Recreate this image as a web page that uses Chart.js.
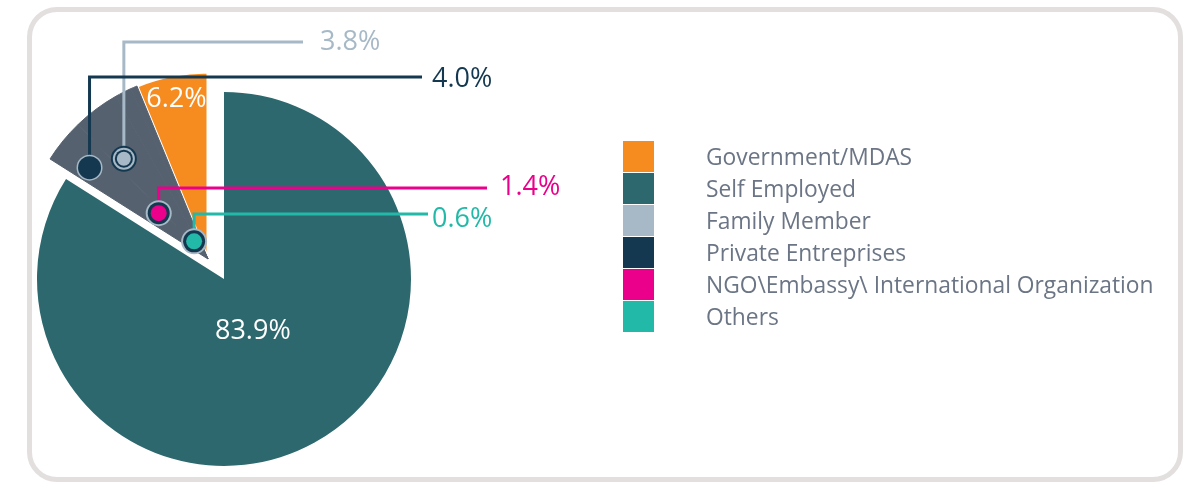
<!DOCTYPE html>
<html>
<head>
<meta charset="utf-8">
<script src="https://cdn.jsdelivr.net/npm/chart.js@4.4.1/dist/chart.umd.min.js"></script>
<style>
  html, body { margin: 0; padding: 0; background: #ffffff; }
  body { width: 1189px; height: 484px; position: relative; overflow: hidden; font-family: "Open Sans", sans-serif; }
  #frame { position: absolute; left: 27px; top: 7px; width: 1146px; height: 465px; border: 5px solid #e3dfdf; border-radius: 30px; }
  #chartWrap { position: absolute; left: 0; top: 0; width: 1189px; height: 484px; }
  #legend { position: absolute; left: 623px; top: 141px; }
  .row { height: 32px; display: flex; align-items: center; }
  .box { width: 31px; height: 31px; margin-bottom: 1px; }
  .txt { margin-left: 52px; font-size: 22.8px; color: #6b7585; line-height: 32px; white-space: nowrap; }
</style>
</head>
<body>
<div id="frame"></div>
<div id="chartWrap"><canvas id="pieChart"></canvas></div>
<div id="legend"></div>

<script>
const categories = [
  "Government/MDAS",
  "Self Employed",
  "Family Member",
  "Private Entreprises",
  "NGO\\Embassy\\ International Organization",
  "Others"
];
const shares = [6.2, 83.9, 3.8, 4.0, 1.4, 0.6];

const legendColors = ["#f68b1f", "#2c686e", "#a7b9c6", "#143850", "#ea008b", "#23b9a8"];
const sliceColors = ["#f68b1f", "#2c686e", "#56616f", "#56616f", "#56616f", "#56616f"];

// slices pulled out of the pie, and how far
const explodedIdx = [0, 2, 3, 4, 5];
const explodeShift = { x: -16, y: -20 };

// labels written inside a slice (index -> fraction of radius)
const innerLabels = [
  { idx: 0, rf: 0.87 },
  { idx: 1, rf: 0.32 }
];

// callouts for the small slices: spot inside the grey wedge + where the label sits
const callouts = [
  { idx: 2, t: 0.50, rf: 0.70, lineY: 42, endX: 303, gap: 17, dy: 0,
    rings: [[13, "#143850"], [11, "#a7b9c6"], [9, "#143850"], [7, "#a7b9c6"]] },
  { idx: 3, t: 0.15, rf: 0.80, lineY: 77, endX: 422, gap: 10, dy: 2,
    rings: [[13, "#a7b9c6"], [11.5, "#143850"]] },
  { idx: 4, t: 0.30, rf: 0.36, lineY: 188, endX: 487, gap: 13, dy: -1,
    rings: [[13, "#a7b9c6"], [11, "#143850"], [8, "#ea008b"]] },
  { idx: 5, t: 0.55, rf: 0.12, lineY: 214, endX: 428, gap: 4, dy: 5,
    rings: [[13, "#a7b9c6"], [11, "#143850"], [8, "#23b9a8"]] }
];

const labelFont = "27px 'Open Sans', sans-serif";

function formatShare(value) {
  return value.toFixed(1) + "%";
}

const explodePlugin = {
  id: "explode",
  beforeDatasetsDraw(chart) {
    const arcs = chart.getDatasetMeta(0).data;
    explodedIdx.forEach(i => {
      const arc = arcs[i];
      if (!arc || arc._shifted) return;
      arc._shifted = true;
      arc.draw = function () {
        const ctx = arguments[0];
        ctx.save();
        ctx.translate(explodeShift.x, explodeShift.y);
        Chart.ArcElement.prototype.draw.apply(this, arguments);
        ctx.restore();
      };
    });
  }
};

const labelPlugin = {
  id: "sliceLabels",
  afterDatasetsDraw(chart) {
    const ctx = chart.ctx;
    const arcs = chart.getDatasetMeta(0).data;

    ctx.save();
    ctx.font = labelFont;
    ctx.textBaseline = "middle";

    // labels inside the big slices
    innerLabels.forEach(item => {
      const arc = arcs[item.idx];
      const shifted = explodedIdx.includes(item.idx);
      const cx = arc.x + (shifted ? explodeShift.x : 0);
      const cy = arc.y + (shifted ? explodeShift.y : 0);
      const mid = (arc.startAngle + arc.endAngle) / 2;
      const r = arc.outerRadius * item.rf;
      ctx.fillStyle = "#ffffff";
      ctx.textAlign = "center";
      ctx.fillText(formatShare(shares[item.idx]), cx + Math.cos(mid) * r, cy + Math.sin(mid) * r);
    });

    // callouts for the small slices
    const first = arcs[callouts[0].idx];
    const last = arcs[callouts[callouts.length - 1].idx];
    const cx = first.x + explodeShift.x;
    const cy = first.y + explodeShift.y;
    const a0 = first.startAngle;
    const a1 = last.endAngle;

    const spots = callouts.map(c => {
      const a = a0 + (a1 - a0) * c.t;
      const r = first.outerRadius * c.rf;
      return { x: cx + Math.cos(a) * r, y: cy + Math.sin(a) * r };
    });

    callouts.forEach((c, k) => {
      const p = spots[k];
      const color = legendColors[c.idx];
      ctx.strokeStyle = color;
      ctx.lineWidth = 3;
      ctx.lineCap = "butt";
      ctx.lineJoin = "miter";
      ctx.beginPath();
      ctx.moveTo(p.x, p.y);
      ctx.lineTo(p.x, c.lineY);
      ctx.lineTo(c.endX, c.lineY);
      ctx.stroke();

      ctx.fillStyle = color;
      ctx.textAlign = "left";
      ctx.fillText(formatShare(shares[c.idx]), c.endX + c.gap, c.lineY + c.dy);
    });

    callouts.forEach((c, k) => {
      const p = spots[k];
      c.rings.forEach(([rad, fill]) => {
        ctx.beginPath();
        ctx.arc(p.x, p.y, rad, 0, Math.PI * 2);
        ctx.fillStyle = fill;
        ctx.fill();
      });
    });

    ctx.restore();
  }
};

function renderLegend() {
  const legend = document.getElementById("legend");
  categories.forEach((name, i) => {
    const row = document.createElement("div");
    row.className = "row";
    row.innerHTML = `<div class="box" style="background:${legendColors[i]}"></div><div class="txt"></div>`;
    row.querySelector(".txt").textContent = name;
    legend.appendChild(row);
  });
}

const ctx = document.getElementById("pieChart").getContext("2d");

new Chart(ctx, {
  type: "pie",
  data: {
    labels: categories,
    datasets: [
      {
        data: shares,
        backgroundColor: sliceColors,
        borderColor: ["#ffffff", "#2c686e", "#56616f", "#56616f", "#56616f", "#56616f"],
        borderWidth: [3, 0, 1, 1, 1, 1],
        radius: 187,
        offset: 0
      }
    ]
  },
  options: {
    responsive: true,
    maintainAspectRatio: false,
    animation: false,
    events: [],
    rotation: -shares[0] / shares.reduce((a, b) => a + b, 0) * 360,
    layout: {
      padding: { left: 37, right: 778, top: 92, bottom: 18 }
    },
    plugins: {
      legend: { display: false },
      tooltip: { enabled: false }
    }
  },
  plugins: [explodePlugin, labelPlugin]
});

renderLegend();
</script>
</body>
</html>
